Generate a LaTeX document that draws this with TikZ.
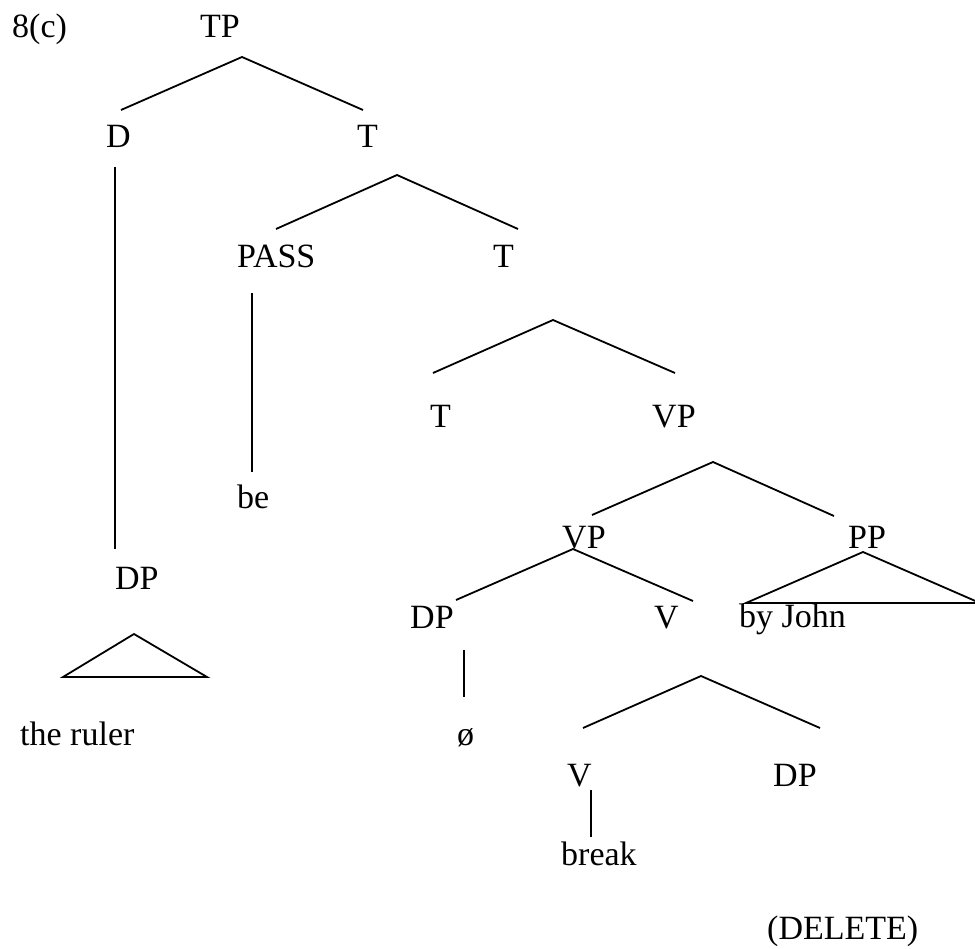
\documentclass[tikz,border=0pt]{standalone}
\usepackage{fontspec}
\setmainfont{Liberation Serif}
\begin{document}
\begin{tikzpicture}[x=1pt,y=-1pt,
  lbl/.style={anchor=base west,inner sep=0pt,font=\fontsize{34}{40}\selectfont},
  br/.style={line width=1.8pt,line cap=butt,line join=miter}]
\useasboundingbox (0,0) rectangle (975,949);
% labels
\node[lbl] (ex) at (12,38) {8(c)};
\node[lbl] (tp) at (200,38) {TP};
\node[lbl] (d) at (106,148) {D};
\node[lbl] (t1) at (357,148) {T};
\node[lbl] (pass) at (237,268) {PASS};
\node[lbl] (t2) at (493,268) {T};
\node[lbl] (t3) at (430,428) {T};
\node[lbl] (vp1) at (652,428) {VP};
\node[lbl] (be) at (237,508) {be};
\node[lbl] (vp2) at (562,548) {VP};
\node[lbl] (pp) at (848,548) {PP};
\node[lbl] (dpl) at (115,589) {DP};
\node[lbl] (dpm) at (410,628) {DP};
\node[lbl] (v1) at (654,628) {V};
\node[lbl] (byj) at (739,627) {by John};
\node[lbl] (ruler) at (20,745) {the ruler};
\node[lbl] (empty) at (457,745) {ø};
\node[lbl] (v2) at (567,786) {V};
\node[lbl] (dpr) at (773,786) {DP};
\node[lbl] (brk) at (561,865) {break};
\node[lbl] (del) at (767,939) {(DELETE)};
% branch points
\coordinate (tpA) at (242,57);   \coordinate (tpL) at (121,110); \coordinate (tpR) at (363,110);
\coordinate (dT) at (115,167);   \coordinate (dB) at (115,549);
\coordinate (t1A) at (397,175);  \coordinate (t1L) at (276,229); \coordinate (t1R) at (518,229);
\coordinate (pT) at (252,293);   \coordinate (pB) at (252,472);
\coordinate (t2A) at (553,320);  \coordinate (t2L) at (433,373); \coordinate (t2R) at (675,373);
\coordinate (vp1A) at (713,462); \coordinate (vp1L) at (592,515); \coordinate (vp1R) at (834,516);
\coordinate (vp2A) at (573,549); \coordinate (vp2L) at (456,600); \coordinate (vp2R) at (693,601);
\coordinate (ppA) at (863,552);  \coordinate (ppL) at (746,603); \coordinate (ppR) at (980,603);
\coordinate (dlA) at (134,634);  \coordinate (dlL) at (63,677);  \coordinate (dlR) at (207,677);
\coordinate (dmT) at (464,650);  \coordinate (dmB) at (464,697);
\coordinate (vA) at (701,676);   \coordinate (vL) at (583,728);  \coordinate (vR) at (820,728);
\coordinate (v2T) at (591,790);  \coordinate (v2B) at (591,837);
% connectors
\draw[br] (tpL) -- (tpA) -- (tpR);
\draw[br] (dT) -- (dB);
\draw[br] (t1L) -- (t1A) -- (t1R);
\draw[br] (pT) -- (pB);
\draw[br] (t2L) -- (t2A) -- (t2R);
\draw[br] (vp1L) -- (vp1A) -- (vp1R);
\draw[br] (vp2L) -- (vp2A) -- (vp2R);
\draw[br] (ppA) -- (ppL) -- (ppR) -- cycle;
\draw[br] (dlA) -- (dlL) -- (dlR) -- cycle;
\draw[br] (dmT) -- (dmB);
\draw[br] (vL) -- (vA) -- (vR);
\draw[br] (v2T) -- (v2B);
\end{tikzpicture}
\end{document}
